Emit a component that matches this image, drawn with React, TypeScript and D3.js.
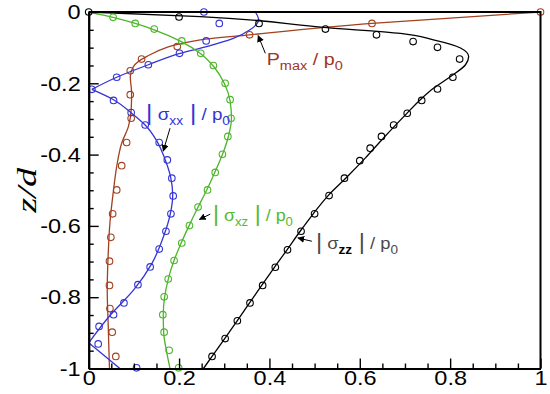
import React, { useEffect, useRef } from "react";
import * as d3 from "d3";

type Pt = [number, number];

const xTicks = [0, 0.2, 0.4, 0.6, 0.8, 1];
const yTicks = [0, -0.2, -0.4, -0.6, -0.8, -1];

// |sigma_zz| / p0 (black)
const szzLine: Pt[] = [
  [0, 0], [0.247, -0.013], [0.527, -0.044], [0.69, -0.06], [0.763, -0.078], [0.823, -0.101],
  [0.841, -0.125], [0.834, -0.148], [0.801, -0.181], [0.763, -0.214], [0.734, -0.246],
  [0.7, -0.29], [0.655, -0.35], [0.612, -0.41], [0.57, -0.465], [0.53, -0.515], [0.497, -0.566],
  [0.468, -0.615], [0.439, -0.667], [0.411, -0.716], [0.383, -0.767], [0.356, -0.816],
  [0.329, -0.866], [0.301, -0.916], [0.273, -0.966], [0.254, -1],
];
const szzPts: Pt[] = [
  [0, 0], [0.2, -0.014], [0.377, -0.032], [0.524, -0.048], [0.637, -0.064], [0.718, -0.083],
  [0.772, -0.099], [0.821, -0.132], [0.806, -0.183], [0.772, -0.216], [0.737, -0.248],
  [0.705, -0.284], [0.675, -0.317], [0.648, -0.349], [0.623, -0.382], [0.6, -0.417],
  [0.566, -0.466], [0.532, -0.515], [0.5, -0.566], [0.47, -0.615], [0.44, -0.667],
  [0.413, -0.716], [0.385, -0.767], [0.357, -0.816], [0.329, -0.866], [0.302, -0.916],
  [0.273, -0.966],
];

// |sigma_xz| / p0 (green)
const sxzLine: Pt[] = [
  [0, 0], [0.054, -0.015], [0.103, -0.032], [0.145, -0.05], [0.205, -0.083], [0.248, -0.117],
  [0.278, -0.155], [0.3, -0.2], [0.313, -0.25], [0.316, -0.298], [0.309, -0.35], [0.296, -0.4],
  [0.279, -0.45], [0.261, -0.5], [0.241, -0.55], [0.222, -0.6], [0.204, -0.65], [0.188, -0.7],
  [0.176, -0.75], [0.168, -0.8], [0.165, -0.85], [0.166, -0.9], [0.172, -0.95], [0.18, -1],
];
const sxzPts: Pt[] = [
  [0.054, -0.015], [0.103, -0.032], [0.145, -0.048], [0.206, -0.081], [0.248, -0.116],
  [0.276, -0.15], [0.302, -0.2], [0.313, -0.246], [0.315, -0.298], [0.308, -0.349],
  [0.296, -0.399], [0.28, -0.45], [0.263, -0.499], [0.242, -0.547], [0.223, -0.599],
  [0.206, -0.648], [0.189, -0.697], [0.176, -0.749], [0.167, -0.799], [0.164, -0.849],
  [0.167, -0.898], [0.178, -0.949], [0.199, -0.998],
];

// |sigma_xx| / p0 (blue), three pieces meeting at sharp corners
const sxxLineTop: Pt[] = [
  [0.369, 0], [0.376, -0.022], [0.357, -0.05], [0.32, -0.074], [0.261, -0.097], [0.202, -0.116],
  [0.132, -0.148], [0.062, -0.183], [0.007, -0.217],
];
const sxxLineMid: Pt[] = [
  [0.007, -0.217], [0.055, -0.246], [0.095, -0.284], [0.125, -0.317], [0.15, -0.36],
  [0.168, -0.41], [0.181, -0.461], [0.186, -0.513], [0.181, -0.564], [0.167, -0.625],
  [0.14, -0.705], [0.1, -0.779], [0.048, -0.85], [0, -0.928],
];
const sxxLineLow: Pt[] = [[0, -0.928], [0.069, -1]];
const sxxPts: Pt[] = [
  [0.255, 0], [0.289, -0.032], [0.26, -0.081], [0.201, -0.116], [0.132, -0.148], [0.062, -0.183],
  [0.007, -0.217], [0.055, -0.248], [0.094, -0.282], [0.125, -0.317], [0.156, -0.366],
  [0.174, -0.415], [0.184, -0.466], [0.187, -0.516], [0.182, -0.566], [0.171, -0.615],
  [0.156, -0.665], [0.136, -0.715], [0.109, -0.765], [0.078, -0.816], [0.055, -0.849],
  [0.023, -0.882], [0.021, -0.931], [0.106, -0.998],
];

// Pmax / p0 (brown)
const pmaxLine: Pt[] = [
  [1, 0], [0.627, -0.032], [0.356, -0.064], [0.247, -0.078], [0.128, -0.125], [0.099, -0.153],
  [0.092, -0.181], [0.095, -0.227], [0.094, -0.275], [0.088, -0.321], [0.073, -0.368],
  [0.062, -0.433], [0.055, -0.499], [0.047, -0.591], [0.043, -0.685], [0.041, -0.779],
  [0.043, -0.871], [0.046, -1],
];
const pmaxPts: Pt[] = [
  [1, 0], [0.627, -0.032], [0.356, -0.064], [0.196, -0.097], [0.117, -0.132], [0.092, -0.165],
  [0.092, -0.232], [0.094, -0.298], [0.084, -0.366], [0.073, -0.431], [0.062, -0.499],
  [0.053, -0.566], [0.049, -0.632], [0.046, -0.699], [0.046, -0.767], [0.047, -0.832],
  [0.052, -0.898], [0.06, -0.966],
];

const BLACK = "#000";
const GREEN = "#4cb52a";
const BLUE = "#3434d6";
const BROWN = "#a2401f";

const series = [
  { lines: [pmaxLine], pts: pmaxPts, color: BROWN },
  { lines: [sxxLineTop, sxxLineMid, sxxLineLow], pts: sxxPts, color: BLUE },
  { lines: [sxzLine], pts: sxzPts, color: GREEN },
  { lines: [szzLine], pts: szzPts, color: BLACK },
];

// label pieces: [text, kind] kind: "bar" tall pipe, "sub" subscript, "key" bold black subscript
const labels = [
  { parts: [["P", ""], ["max", "sub"], [" / p", ""], ["0", "sub"]], at: [0.394, -0.148], from: [0.391, -0.116], to: [0.375, -0.066], color: "#a0361f", width: 76 },
  { parts: [["|", "bar"], [" σ", ""], ["xx", "sub"], [" |", "bar"], [" / p", ""], ["0", "sub"]], at: [0.127, -0.303], from: [0.18, -0.326], to: [0.165, -0.39], color: BLUE, width: 84 },
  { parts: [["|", "bar"], [" σ", ""], ["xz", "sub"], [" |", "bar"], [" / p", ""], ["0", "sub"]], at: [0.275, -0.585], from: [0.269, -0.567], to: [0.245, -0.582], color: "#55bb2c", width: 80 },
  { parts: [["|", "bar"], [" σ", ""], ["zz", "key"], [" |", "bar"], [" / p", ""], ["0", "sub"]], at: [0.503, -0.664], from: [0.494, -0.643], to: [0.463, -0.634], color: "#4a4a4a", width: 82 },
];

const W = 550;
const H = 394;
const M = { top: 12, right: 9.5, bottom: 25.5, left: 88.7 };

export default function App() {
  const ref = useRef<SVGSVGElement>(null);

  useEffect(() => {
    const svg = d3.select(ref.current);
    svg.selectAll("*").remove();

    const x = d3.scaleLinear().domain([0, 1]).range([M.left, W - M.right]);
    const y = d3.scaleLinear().domain([-1, 0]).range([H - M.bottom, M.top]);

    svg.append("defs").append("marker")
      .attr("id", "arr")
      .attr("viewBox", "0 0 10 10")
      .attr("refX", 9).attr("refY", 5)
      .attr("markerWidth", 7).attr("markerHeight", 7)
      .attr("markerUnits", "userSpaceOnUse")
      .attr("orient", "auto")
      .append("path").attr("d", "M0,0 L10,5 L0,10 z").attr("fill", "#000");

    // curves
    const line = d3.line<Pt>().x((d) => x(d[0])).y((d) => y(d[1])).curve(d3.curveMonotoneY);
    series.forEach((s) => {
      s.lines.forEach((l) => {
        svg.append("path").attr("d", line(l)).attr("fill", "none")
          .attr("stroke", s.color).attr("stroke-width", 1.3);
      });
    });
    series.forEach((s) => {
      svg.append("g").selectAll("circle").data(s.pts).join("circle")
        .attr("cx", (d) => x(d[0])).attr("cy", (d) => y(d[1])).attr("r", 3.3)
        .attr("fill", "none").attr("stroke", s.color).attr("stroke-width", 1.1);
    });

    // axes
    const fmt = (d: d3.NumberValue) => (+d === 0 ? "0" : String(+d));
    const minorX = d3.range(0, 1.0001, 0.05).filter((v) => Math.abs(v * 5 - Math.round(v * 5)) > 1e-6);
    const minorY = minorX.map((v) => -v);

    const gx = svg.append("g").attr("transform", `translate(0,${H - M.bottom})`);
    gx.append("g").call(d3.axisBottom(x).tickValues(minorX).tickSizeInner(-5).tickSizeOuter(0).tickFormat(() => ""));
    gx.append("g").call(d3.axisBottom(x).tickValues(xTicks).tickSizeInner(-10).tickSizeOuter(0).tickPadding(2).tickFormat(fmt));

    const gy = svg.append("g").attr("transform", `translate(${M.left},0)`);
    gy.append("g").call(d3.axisLeft(y).tickValues(minorY).tickSizeInner(-5).tickSizeOuter(0).tickFormat(() => ""));
    gy.append("g").call(d3.axisLeft(y).tickValues(yTicks).tickSizeInner(-10).tickSizeOuter(0).tickPadding(8).tickFormat(fmt));

    svg.selectAll(".domain").attr("stroke", "#000").attr("stroke-width", 2);
    svg.selectAll(".tick line").attr("stroke", "#000").attr("stroke-width", 1.4);
    svg.selectAll<SVGTextElement, unknown>(".tick text")
      .attr("font-family", "Liberation Sans, Arial, sans-serif")
      .attr("font-size", 21).attr("fill", "#000")
      .each(function () {
        // glyphs in the original are a little wider than Arial
        const w = this.getComputedTextLength();
        d3.select(this).attr("textLength", w * 1.12).attr("lengthAdjust", "spacingAndGlyphs");
      });

    // frame top / right
    svg.append("path")
      .attr("d", `M${x(0)},${y(0)} H${x(1)} V${y(-1)}`)
      .attr("fill", "none").attr("stroke", "#000").attr("stroke-width", 2);

    // y title
    svg.append("text")
      .attr("transform", `translate(36,${(y(0) + y(-1)) / 2}) rotate(-90)`)
      .attr("text-anchor", "middle")
      .attr("font-family", "Liberation Serif, Times New Roman, serif")
      .attr("font-style", "italic").attr("font-size", 27)
      .attr("textLength", 45).attr("lengthAdjust", "spacingAndGlyphs")
      .text("z/d");

    // annotations
    labels.forEach((lb) => {
      svg.append("line")
        .attr("x1", x(lb.from[0])).attr("y1", y(lb.from[1]))
        .attr("x2", x(lb.to[0])).attr("y2", y(lb.to[1]))
        .attr("stroke", "#000").attr("stroke-width", 1).attr("marker-end", "url(#arr)");
      const t = svg.append("text")
        .attr("x", x(lb.at[0])).attr("y", y(lb.at[1]))
        .attr("font-family", "Liberation Sans, Arial, sans-serif")
        .attr("font-size", 17).attr("fill", lb.color)
        .attr("textLength", lb.width).attr("lengthAdjust", "spacingAndGlyphs");
      let shift = 0;
      lb.parts.forEach(([txt, kind]) => {
        const isSub = kind === "sub" || kind === "key";
        const dy = isSub ? 5 - shift : -shift;
        shift = isSub ? 5 : 0;
        t.append("tspan")
          .attr("dy", dy)
          .attr("font-size", isSub ? 12.5 : kind === "bar" ? 22 : 17)
          .attr("fill", kind === "key" ? "#000" : lb.color)
          .attr("font-weight", kind === "key" ? "bold" : null)
          .text(txt);
      });
    });
  }, []);

  return (
    <svg ref={ref} width={W} height={H}
      style={{ position: "absolute", left: 0, top: 0, background: "#fff" }} />
  );
}
